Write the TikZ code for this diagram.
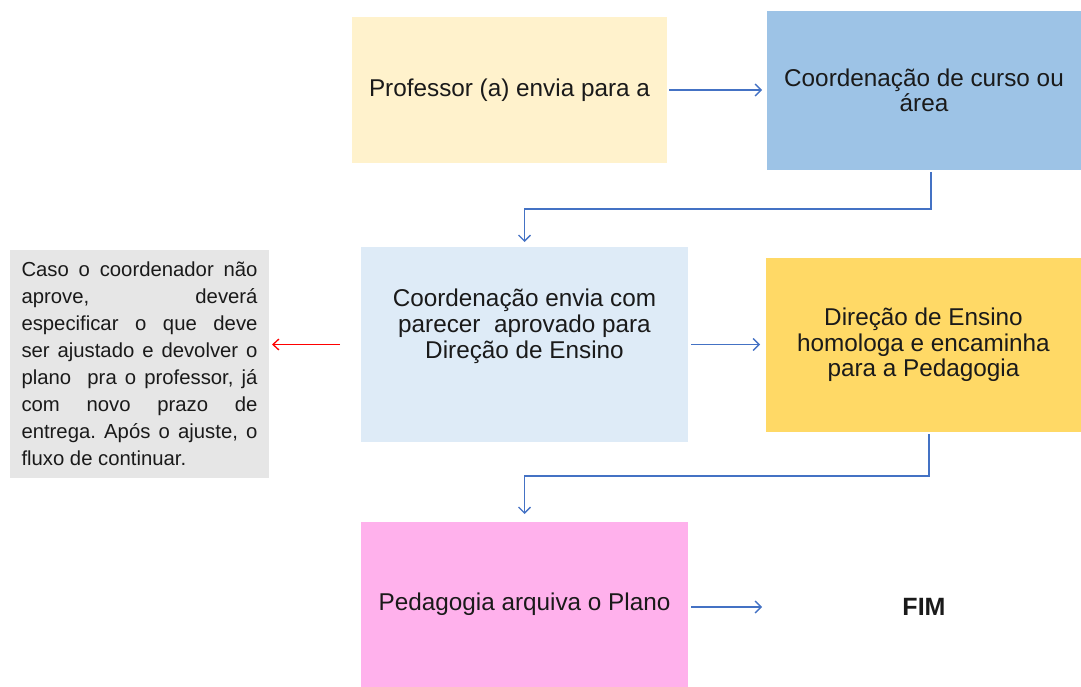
\documentclass[tikz,border=0pt]{standalone}
\usepackage{fontspec}
\setmainfont{Liberation Sans}
\usetikzlibrary{arrows.meta}
\definecolor{cyellow}{HTML}{FFF2CC}
\definecolor{cblue}{HTML}{9DC3E6}
\definecolor{clblue}{HTML}{DEEBF7}
\definecolor{cgold}{HTML}{FFD966}
\definecolor{cpink}{HTML}{FFB1EC}
\definecolor{cgrey}{HTML}{E6E6E6}
\definecolor{arrblue}{HTML}{4472C4}
\definecolor{ctext}{HTML}{1A1A1A}
\frenchspacing
\begin{document}
\begin{tikzpicture}[x=1pt,y=-1pt,
  box/.style={rectangle, draw=none, inner sep=0pt, outer sep=0pt},
  txt/.style={font=\fontsize{24.3}{25.5}\selectfont, align=center, text=ctext},
  arr/.style={draw=arrblue, line width=1.3pt, -{Straight Barb[length=6pt,width=12pt]}},
  redarr/.style={draw=red, line width=1.3pt, -{Straight Barb[length=6pt,width=11pt]}}
]
\useasboundingbox (0,0) rectangle (1081,687);

\node[box, fill=cyellow, minimum width=315, minimum height=146, txt] (b1) at (509.5,90) {Professor (a) envia para a};
\node[box, fill=cblue, minimum width=314, minimum height=159, txt] (b2) at (924,90.5) {Coordenação de curso ou\\área};
\node[box, fill=clblue, minimum width=327, minimum height=195] (b3) at (524.5,344.5) {};
\node[txt, font=\fontsize{24.3}{26}\selectfont] (t3) at ([yshift=18.5pt]b3.center) {Coordenação envia com\\parecer\ \ aprovado para\\Direção de Ensino};
\node[box, fill=cgold, minimum width=315, minimum height=174, txt] (b4) at (923.5,345) {Direção de Ensino\\homologa e encaminha\\para a Pedagogia};
\node[box, fill=cpink, minimum width=327, minimum height=165, txt] (b5) at (524.5,604.5) {Pedagogia arquiva o Plano};
\node[box, minimum width=314, minimum height=40, txt, font=\fontsize{25}{26}\selectfont\bfseries] (fim) at (924,607) {FIM};
\node[box, fill=cgrey, minimum width=259, minimum height=228] (grey) at (139.5,364) {};
\node[text width=236pt, align=justify, inner sep=0pt, text=ctext,
      font=\fontsize{20.3}{27}\selectfont] (gt) at (grey.center)
  {Caso o coordenador não\linebreak aprove, deverá\linebreak especificar o que deve\linebreak ser ajustado e devolver o\linebreak plano\ \ pra o professor, já\linebreak com novo prazo de\linebreak entrega. Após o ajuste, o\linebreak fluxo de continuar.};

\draw[arr, shorten <=2pt, shorten >=5pt] (b1.east) -- (b1.east -| b2.west);
\draw[arr, shorten <=2pt, shorten >=5pt] ([xshift=7pt]b2.south) -- ++(0,39) -| (b3.north);
\draw[arr, shorten <=3pt, shorten >=6pt] (b3.east) -- (b3.east -| b4.west);
\draw[redarr, shorten <=21pt, shorten >=3pt] (b3.west) -- (b3.west -| grey.east);
\draw[arr, shorten <=2pt, shorten >=8pt] ([xshift=5.5pt]b4.south) -- ++(0,44) -| (b5.north);
\draw[arr, shorten <=3pt, shorten >=5pt] ([yshift=-2.5pt]b5.east) -- ([yshift=-2.5pt]b5.east -| fim.west);
\end{tikzpicture}
\end{document}
